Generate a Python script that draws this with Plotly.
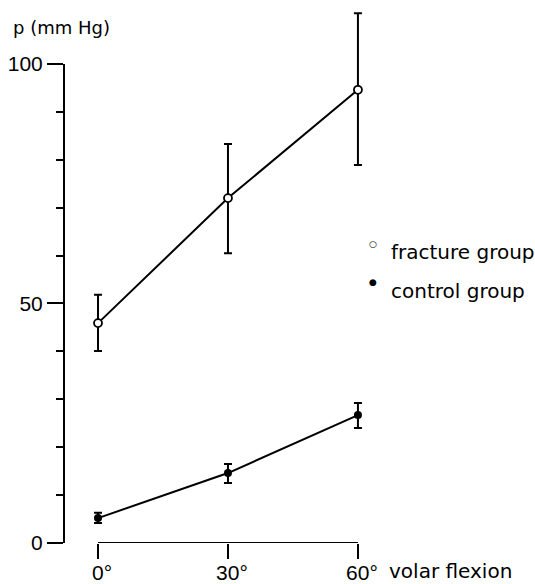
import plotly.graph_objects as go

# ---- data ----
angles = [0, 30, 60]
angle_labels = ["0°", "30°", "60°"]
fracture_mean = [45.9, 72.0, 94.6]
fracture_err_plus = [5.9, 11.3, 16.0]
fracture_err_minus = [5.8, 11.5, 15.7]
control_mean = [5.2, 14.6, 26.7]
control_err_plus = [1.1, 1.9, 2.5]
control_err_minus = [1.0, 2.1, 2.7]

W, H = 535, 584
ML, MR, MT, MB = 64, 25, 6, 41
PW, PH = W - ML - MR, H - MT - MB

XR = [-7.85, 95.1]
YR = [0, 112.1]


def px(xp):
    return (xp - ML) / PW


def py(yp):
    return (H - MB - yp) / PH


TXT = "DejaVu Sans"
NUM = "Liberation Sans Narrow, Liberation Sans, Arial Narrow, sans-serif"

fig = go.Figure()

fig.add_trace(go.Scatter(
    x=angles, y=control_mean, mode="lines+markers",
    line=dict(color="black", width=2),
    marker=dict(symbol="circle", size=8, color="black"),
    error_y=dict(type="data", symmetric=False, array=control_err_plus,
                 arrayminus=control_err_minus, color="black", thickness=2, width=4),
    showlegend=False, cliponaxis=False,
))
fig.add_trace(go.Scatter(
    x=angles, y=fracture_mean, mode="lines+markers",
    line=dict(color="black", width=2),
    marker=dict(symbol="circle", size=8, color="white", line=dict(color="black", width=1.8)),
    error_y=dict(type="data", symmetric=False, array=fracture_err_plus,
                 arrayminus=fracture_err_minus, color="black", thickness=2, width=4),
    showlegend=False, cliponaxis=False,
))

shapes = [
    # y axis line (0..100)
    dict(type="line", xref="paper", yref="y", x0=0, x1=0, y0=0, y1=100,
         line=dict(color="black", width=2)),
    # x axis line (0..60)
    dict(type="line", xref="x", yref="y", x0=angles[0], x1=angles[-1], y0=0, y1=0,
         line=dict(color="black", width=2)),
]

annotations = [
    dict(text="p (mm Hg)", xref="paper", yref="paper", x=px(11), y=py(27),
         xanchor="left", yanchor="middle", showarrow=False,
         font=dict(family=TXT, size=18, color="black")),
    dict(text="volar flexion", xref="paper", yref="paper", x=px(388), y=py(571),
         xanchor="left", yanchor="middle", showarrow=False, borderpad=0,
         font=dict(family=TXT, size=20, color="black")),
    dict(text="○", xref="paper", yref="paper", x=px(373), y=py(244),
         xanchor="center", yanchor="middle", showarrow=False,
         font=dict(family=TXT, size=9, color="black")),
    dict(text="fracture group", xref="paper", yref="paper", x=px(389), y=py(252),
         xanchor="left", yanchor="middle", showarrow=False,
         font=dict(family=TXT, size=20, color="black")),
    dict(text="●", xref="paper", yref="paper", x=px(373), y=py(282),
         xanchor="center", yanchor="middle", showarrow=False,
         font=dict(family=TXT, size=9, color="black")),
    dict(text="control group", xref="paper", yref="paper", x=px(389), y=py(291),
         xanchor="left", yanchor="middle", showarrow=False,
         font=dict(family=TXT, size=20, color="black")),
]

fig.update_layout(
    width=W, height=H,
    margin=dict(l=ML, r=MR, t=MT, b=MB, autoexpand=False),
    paper_bgcolor="white", plot_bgcolor="white",
    shapes=shapes, annotations=annotations,
    xaxis=dict(range=XR, showgrid=False, zeroline=False, showline=False,
               tickmode="array", tickvals=angles, ticktext=angle_labels,
               ticks="outside", ticklen=15, tickwidth=2, tickcolor="black",
               tickfont=dict(family=NUM, size=21, color="black"),
               ticklabelshift=4, ticklabelstandoff=-4, automargin=False),
    yaxis=dict(range=YR, showgrid=False, zeroline=False, showline=False,
               tickmode="array", tickvals=[0, 50, 100], ticktext=["0", "50", "100"],
               ticks="outside", ticklen=16, tickwidth=2, tickcolor="black",
               tickfont=dict(family=NUM, size=21, color="black"),
               minor=dict(tickmode="array", tickvals=[10, 20, 30, 40, 60, 70, 80, 90],
                          ticks="outside", ticklen=7, tickwidth=2, tickcolor="black"),
               automargin=False),
)

fig.write_html("out.html")
